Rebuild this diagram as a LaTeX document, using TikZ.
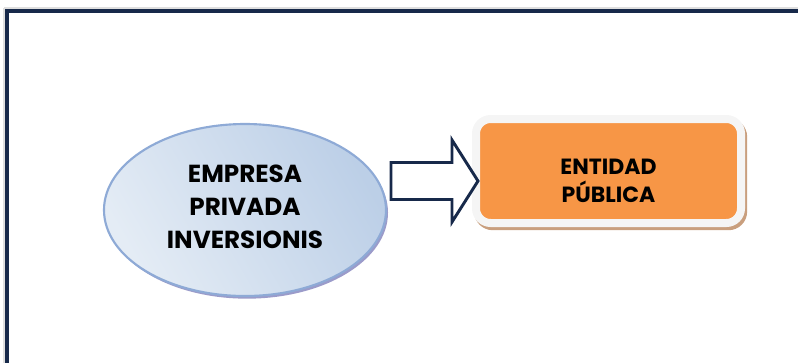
\documentclass[tikz,border=0pt]{standalone}
\usepackage{fontspec}
\setmainfont{Poppins}
\usetikzlibrary{shapes.geometric,shadows,calc}

\definecolor{marino}{HTML}{17294A}
\definecolor{naranja}{HTML}{F79646}
\definecolor{bordeazul}{HTML}{8EAAD6}
\definecolor{azulclaro}{HTML}{E4ECF5}
\definecolor{azuloscuro}{HTML}{BCCFE7}
\definecolor{sombracafe}{HTML}{C99F7E}

\tikzset{
  elipse/.style={ellipse, draw=bordeazul, line width=1.6pt,
    left color=azulclaro, right color=azuloscuro, shading angle=120,
    drop shadow={shadow xshift=1.5pt, shadow yshift=-2pt, fill=gray!70!blue, opacity=0.6},
    align=center, font=\bfseries\fontsize{18.5}{24.75}\selectfont},
  caja/.style={rectangle, rounded corners=11pt, draw=gray!8, line width=6pt,
    fill=naranja,
    drop shadow={shadow xshift=1.6pt, shadow yshift=-2.4pt, draw=sombracafe,
      line width=6pt, fill=sombracafe, opacity=1},
    align=center, font=\bfseries\fontsize{16.5}{21}\selectfont},
  flecha/.style={draw=marino, line width=2.2pt, fill=white, line join=miter}
}

\begin{document}
\begin{tikzpicture}[x=0.75pt,y=-0.75pt]

% Size of the page
\def\W{798}
\def\H{362}
% Half height of the arrow shaft and head
\def\fs{18.5}
\def\fh{41}

\useasboundingbox (0,0) rectangle (\W,\H);
\clip (0,0) rectangle (\W,\H);

% Outer frame (runs off the right and bottom)
\draw[gray!25, line width=1pt] (4,8) -- (\W+10,8);
\draw[gray!25, line width=1pt] (4,8) -- (4,\H+10);
\draw[marino, line width=3pt] (6.5,\H+10) -- (6.5,11) -- (\W+10,11);

% Private company
\node[elipse, text height=60pt, text depth=3pt,
  minimum width=282*0.75pt, minimum height=172*0.75pt] (emp) at (245,210)
  {EMPRESA\\PRIVADA\\INVERSIONIS};

% Public entity
\node[caja, text height=50pt, text depth=2.8pt,
  minimum width=265*0.75pt, minimum height=104*0.75pt] (ent) at (608.5,171)
  {ENTIDAD\\PÚBLICA};

% Block arrow between them
\coordinate (cola) at (391,181);
\coordinate (cuello) at (452,181);
\coordinate (punta) at (478,181);
\draw[flecha] ($(cola)+(0,-\fs)$) -- ($(cuello)+(0,-\fs)$) -- ($(cuello)+(0,-\fh)$)
  -- (punta) -- ($(cuello)+(0,\fh)$) -- ($(cuello)+(0,\fs)$) -- ($(cola)+(0,\fs)$) -- cycle;

\end{tikzpicture}
\end{document}
